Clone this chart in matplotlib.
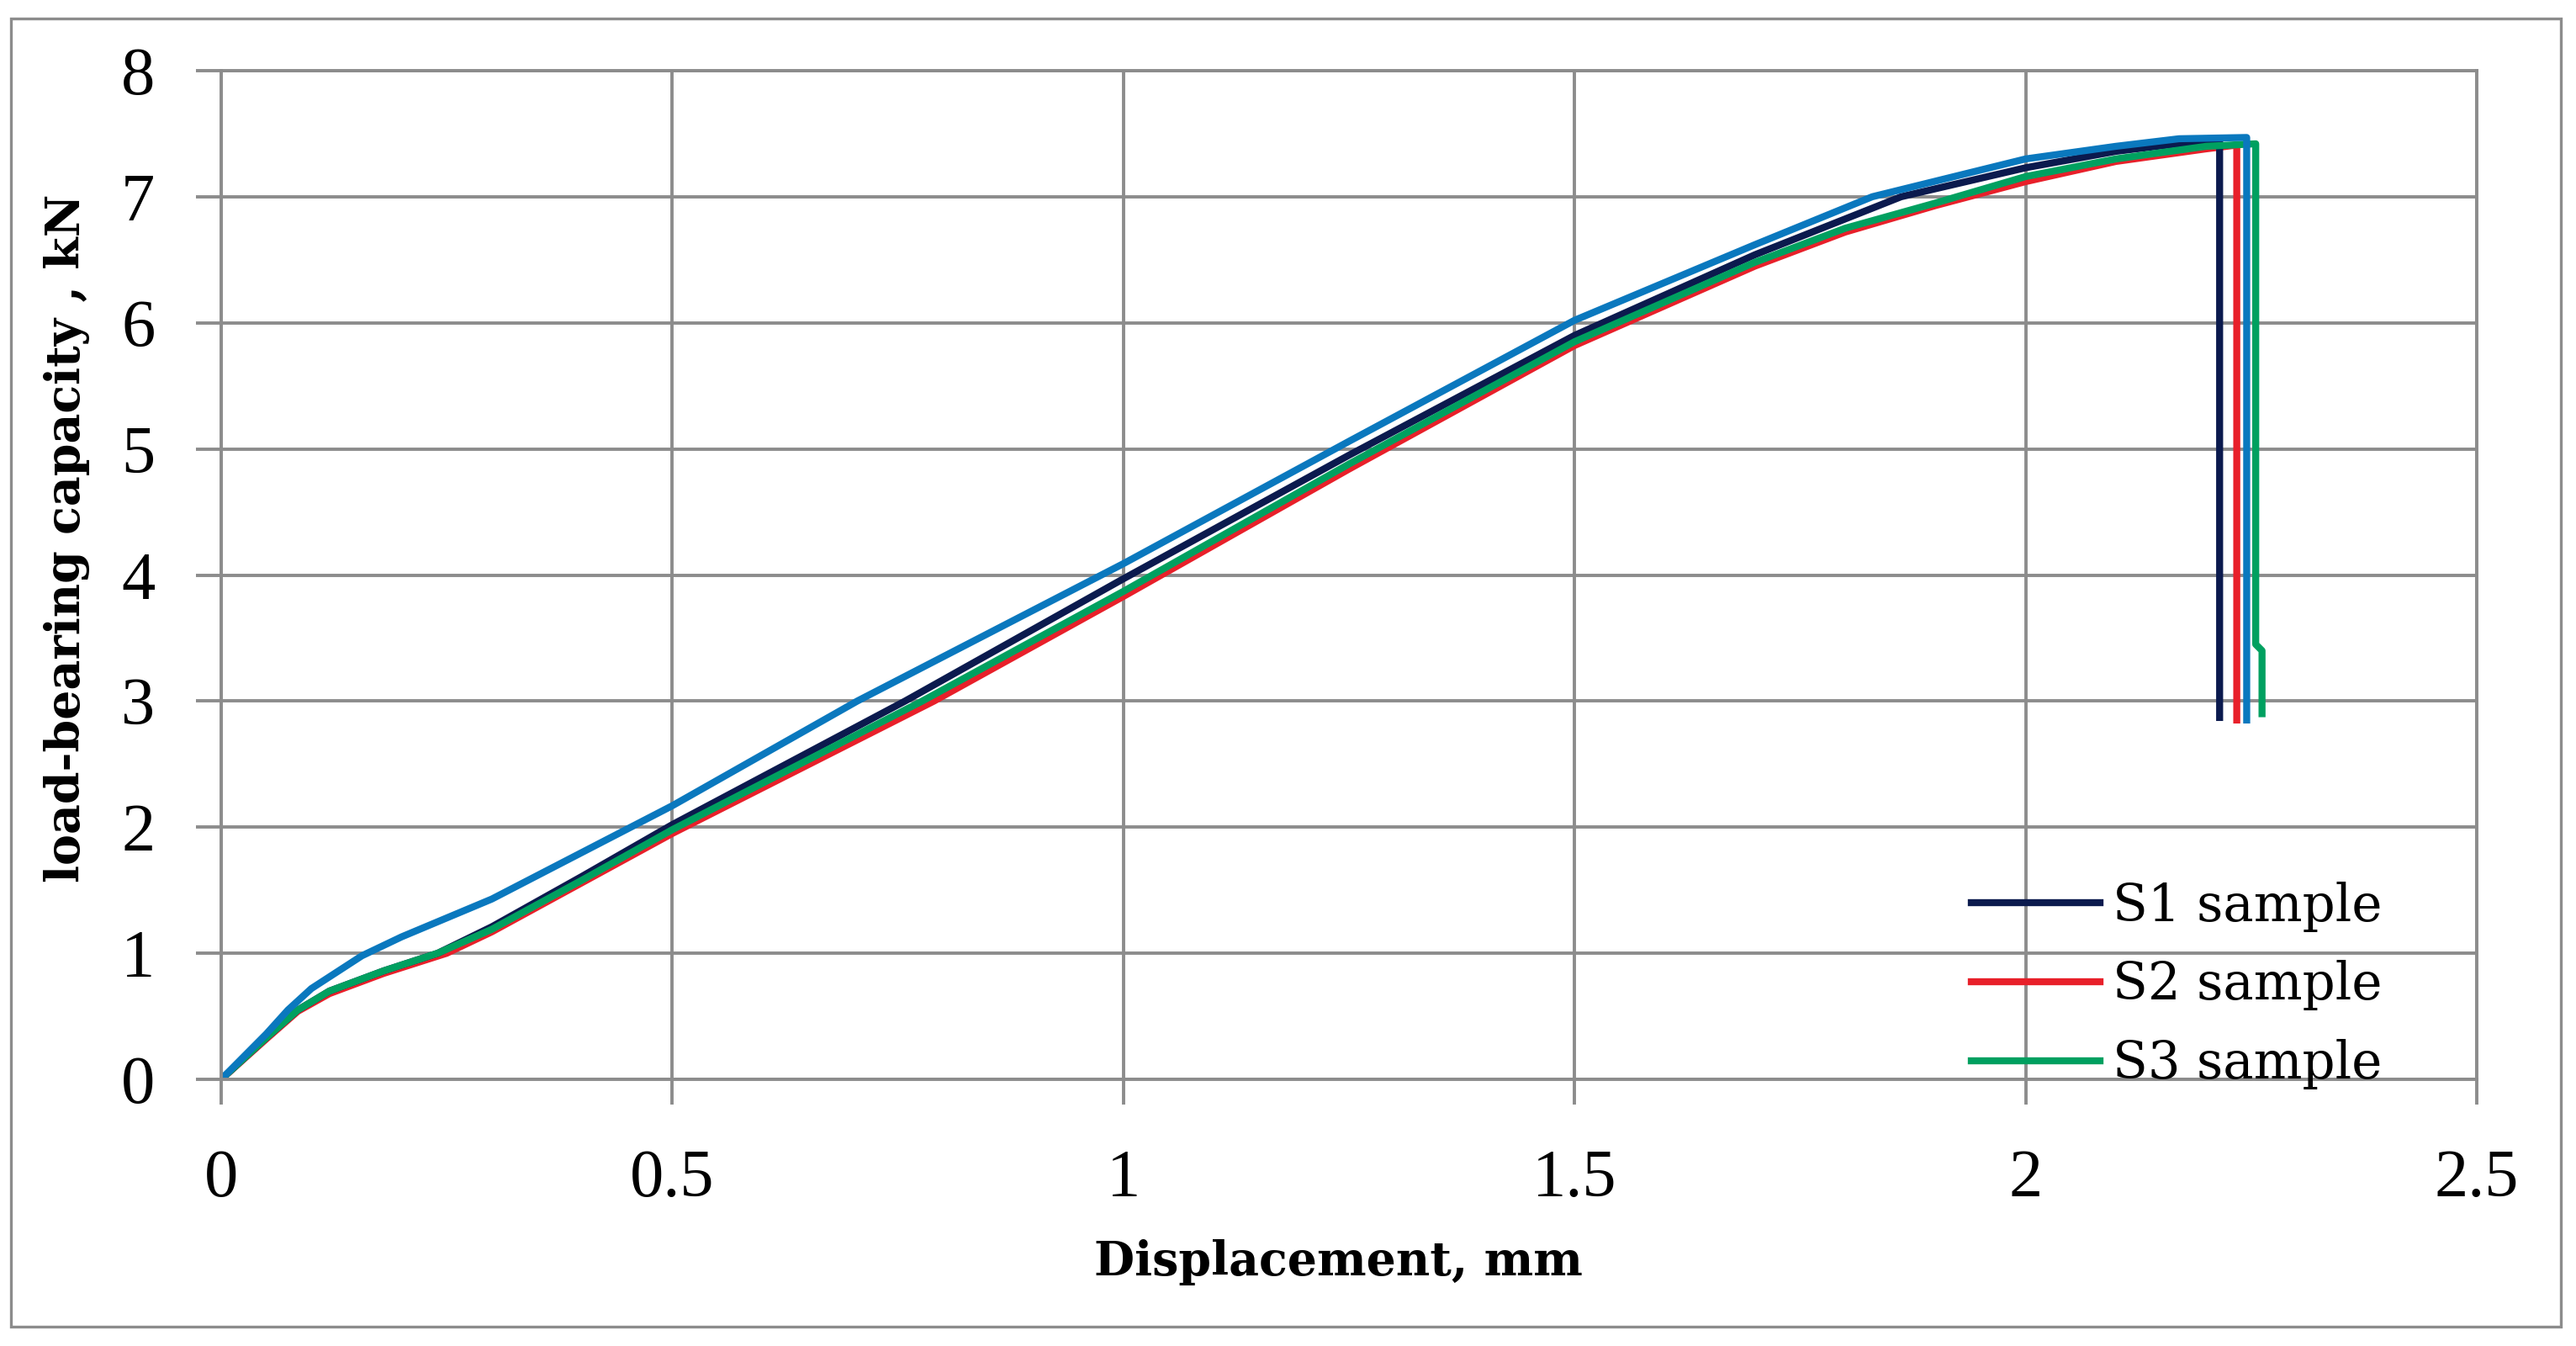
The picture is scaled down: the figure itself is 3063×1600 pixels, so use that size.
import matplotlib
matplotlib.use("Agg")
import matplotlib.pyplot as plt
from matplotlib.lines import Line2D
from matplotlib.patches import Rectangle

# S1 sample
disp_s1 = [0, 0.05, 0.085, 0.12, 0.18, 0.24, 0.3, 0.4, 0.5, 0.758, 1.0, 1.25, 1.5, 1.7, 1.862, 2.0, 2.1, 2.18, 2.215, 2.215]
load_s1 = [0, 0.33, 0.55, 0.7, 0.86, 1.0, 1.21, 1.61, 2.02, 3.0, 3.97, 4.95, 5.9, 6.54, 7.0, 7.23, 7.36, 7.43, 7.44, 2.87]

# S2 sample
disp_s2 = [0, 0.05, 0.085, 0.12, 0.18, 0.25, 0.3, 0.4, 0.5, 0.79, 1.0, 1.25, 1.5, 1.7, 1.8, 1.9, 2.0, 2.1, 2.2, 2.234, 2.234]
load_s2 = [0, 0.32, 0.54, 0.68, 0.84, 1.0, 1.17, 1.56, 1.95, 3.0, 3.83, 4.84, 5.82, 6.45, 6.72, 6.93, 7.12, 7.28, 7.38, 7.41, 2.85]

# S3 sample
disp_s3 = [0, 0.05, 0.085, 0.12, 0.18, 0.24, 0.3, 0.4, 0.5, 0.777, 1.0, 1.25, 1.5, 1.7, 1.8, 1.9, 2.0, 2.1, 2.2, 2.255, 2.255, 2.262, 2.262]
load_s3 = [0, 0.33, 0.55, 0.7, 0.86, 1.0, 1.19, 1.58, 1.98, 3.0, 3.87, 4.88, 5.85, 6.48, 6.75, 6.95, 7.16, 7.3, 7.4, 7.42, 3.45, 3.4, 2.9]

# fourth curve (not in legend)
disp_s4 = [0, 0.05, 0.074, 0.1, 0.156, 0.2, 0.25, 0.3, 0.4, 0.5, 0.705, 1.0, 1.25, 1.5, 1.7, 1.83, 2.0, 2.1, 2.17, 2.245, 2.245]
load_s4 = [0, 0.36, 0.55, 0.72, 0.98, 1.13, 1.28, 1.43, 1.8, 2.17, 3.0, 4.09, 5.06, 6.02, 6.62, 7.0, 7.3, 7.4, 7.46, 7.47, 2.85]

labels = ["S1 sample", "S2 sample", "S3 sample"]
colors = ["#0b1a4e", "#e8202a", "#00a060"]
blue = "#0a78be"
gray = "#8c8c8c"

x_ticks = [0, 0.5, 1, 1.5, 2, 2.5]
x_ticklabels = ["0", "0.5", "1", "1.5", "2", "2.5"]
y_ticks = [0, 1, 2, 3, 4, 5, 6, 7, 8]

W, H = 3063, 1600
fig = plt.figure(figsize=(W / 100, H / 100), dpi=100)
ax = fig.add_axes([263 / W, (H - 1283) / H, 2682 / W, 1199 / H])

lw = 6
ax.plot(disp_s2, load_s2, color=colors[1], lw=lw)
ax.plot(disp_s1, load_s1, color=colors[0], lw=lw)
ax.plot(disp_s3, load_s3, color=colors[2], lw=lw)
ax.plot(disp_s4, load_s4, color=blue, lw=lw)

ax.set_xlim(0, 2.5)
ax.set_ylim(0, 8)
ax.set_xticks(x_ticks)
ax.set_xticklabels(x_ticklabels)
ax.set_yticks(y_ticks)
ax.grid(True, color=gray, lw=2.8, zorder=0)
ax.set_axisbelow(True)
for sp in ax.spines.values():
    sp.set_color(gray)
    sp.set_linewidth(2.8)

ax.tick_params(axis="both", length=21.6, width=2.8, color=gray, direction="out")
ax.tick_params(axis="x", pad=38)
ax.tick_params(axis="y", pad=35)
for lab in ax.get_xticklabels() + ax.get_yticklabels():
    lab.set_fontfamily("Liberation Serif")
    lab.set_fontsize(58)

handles = [Line2D([], [], color=c, lw=lw) for c in colors]
ax.legend(handles, labels, loc="lower left", bbox_to_anchor=(0.776, -0.01),
          frameon=False, borderpad=0, borderaxespad=0, handlelength=2.5,
          handletextpad=0.25, labelspacing=0.55,
          prop={"family": "DejaVu Serif", "size": 44})

fig.text(1591 / W, 1 - 1500 / H, "Displacement, mm", ha="center", va="center",
         family="DejaVu Serif", weight="bold", fontsize=40)
fig.text(80 / W, 1 - 640 / H, "load-bearing capacity , kN", ha="center", va="center",
         rotation=90, family="DejaVu Serif", weight="bold", fontsize=40)

fig.patches.append(Rectangle((13 / W, 1 - 1577 / H), (3045 - 13) / W, (1577 - 22) / H,
                             transform=fig.transFigure, fill=False, ec=gray, lw=2.4))

fig.savefig("out.png", dpi=100)
